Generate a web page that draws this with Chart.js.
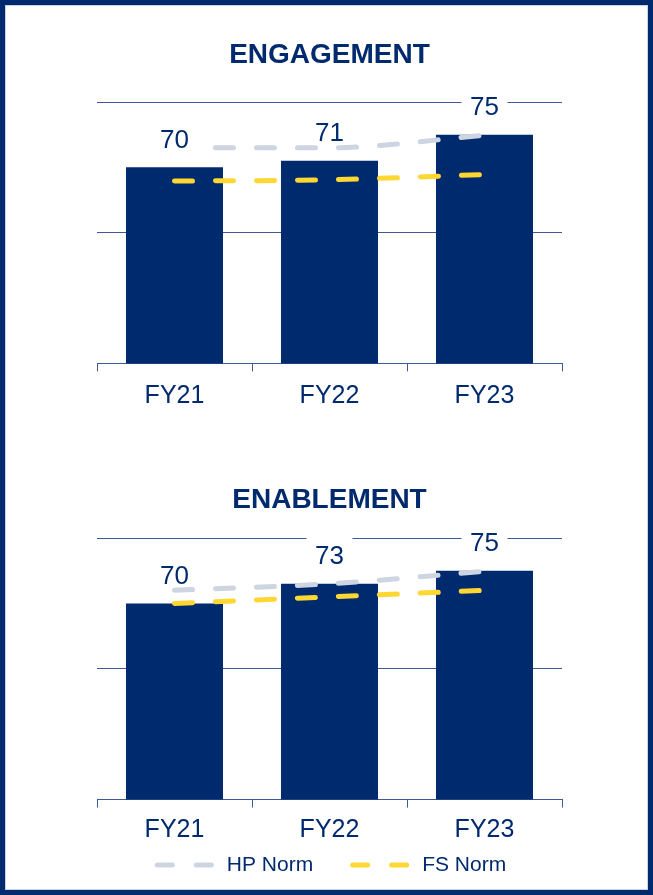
<!DOCTYPE html>
<html lang="en">
<head>
<meta charset="UTF-8" />
<title>Engagement &amp; Enablement</title>
<script src="https://cdn.jsdelivr.net/npm/chart.js@4.4.0/dist/chart.umd.min.js"></script>
<style>
  html, body { margin: 0; padding: 0; background: #fff; }
  body { position: relative; width: 653px; height: 895px; overflow: hidden; }
  .frame {
    position: absolute; left: 0; top: 0; width: 653px; height: 895px;
    box-sizing: border-box; border: 5px solid #002a6e;
    box-shadow: inset 0 0 0 1px #c9d1e3;
  }
  .chart-box { position: absolute; left: 0; width: 653px; }
</style>
</head>
<body>
<div class="frame"></div>
<div class="chart-box" style="top:0;height:420px"><canvas id="engagementChart"></canvas></div>
<div class="chart-box" style="top:440px;height:455px"><canvas id="enablementChart"></canvas></div>

<script>
  const years = ['FY21', 'FY22', 'FY23'];

  const engagementScores = [70, 71, 75];
  const engagementHpNorm = [73, 73, 74.9];
  const engagementFsNorm = [67.9, 68.1, 68.9];

  const enablementScores = [70, 73, 75];
  const enablementHpNorm = [72, 73, 74.9];
  const enablementFsNorm = [70, 71, 72];

  // gridlines on the value axis
  const yTicks = [40, 60, 80];

  const NAVY = '#002a6e';
  const GRID = '#3f5896';
  const HP_GREY = '#cdd4e2';
  const FS_YELLOW = '#ffd733';
  const FONT = '"Liberation Sans", Arial, sans-serif';

  Chart.defaults.font.family = FONT;
  Chart.defaults.color = NAVY;

  // value labels above bars, on a white box (cuts the gridline like the original)
  const barLabels = {
    id: 'barLabels',
    afterDatasetsDraw(chart) {
      const idx = chart.data.datasets.findIndex(d => d.type === 'bar');
      const meta = chart.getDatasetMeta(idx);
      const ctx = chart.ctx;
      ctx.save();
      ctx.font = '26px ' + FONT;
      ctx.textAlign = 'center';
      ctx.textBaseline = 'middle';
      meta.data.forEach((bar, i) => {
        const y = bar.y - 27;
        ctx.fillStyle = '#fff';
        ctx.fillRect(bar.x - 23, y - 22, 46, 32);
        ctx.fillStyle = NAVY;
        ctx.fillText(chart.data.datasets[idx].data[i], bar.x, y);
      });
      ctx.restore();
    }
  };

  // dashed legend for the two norm lines
  const normLegend = {
    id: 'normLegend',
    afterDraw(chart, args, opts) {
      if (!opts.show) return;
      const ctx = chart.ctx;
      const lines = chart.data.datasets.filter(d => d.type === 'line');
      const swatch = 60, gap = 12, between = 37;
      ctx.save();
      ctx.font = '21px ' + FONT;
      ctx.textBaseline = 'middle';
      ctx.textAlign = 'left';
      const widths = lines.map(d => ctx.measureText(d.label).width);
      const total = widths.reduce((s, w) => s + w + swatch + gap, 0) + between * (lines.length - 1);
      const area = chart.chartArea;
      let x = (area.left + area.right) / 2 + 1 - total / 2;
      const y = area.bottom + opts.offset;
      lines.forEach((d, i) => {
        ctx.strokeStyle = d.borderColor;
        ctx.lineWidth = d.borderWidth;
        ctx.lineCap = 'round';
        ctx.setLineDash([15, 24]);
        ctx.beginPath();
        ctx.moveTo(x + 2.5, y);
        ctx.lineTo(x + swatch - 2.5, y);
        ctx.stroke();
        ctx.setLineDash([]);
        ctx.fillStyle = NAVY;
        ctx.fillText(d.label, x + swatch + gap, y);
        x += swatch + gap + widths[i] + between;
      });
      ctx.restore();
    }
  };

  function makeChart(id, title, scores, hpNorm, fsNorm, o) {
    return new Chart(document.getElementById(id), {
      type: 'bar',
      data: {
        labels: years,
        datasets: [
          {
            type: 'line',
            label: 'HP Norm',
            data: hpNorm,
            borderColor: HP_GREY,
            borderWidth: 5,
            borderDash: [18, 23],
            borderCapStyle: 'round',
            cubicInterpolationMode: 'monotone',
            pointRadius: 0,
            order: 1
          },
          {
            type: 'line',
            label: 'FS Norm',
            data: fsNorm,
            borderColor: FS_YELLOW,
            borderWidth: 5,
            borderDash: [18, 23],
            borderCapStyle: 'round',
            cubicInterpolationMode: 'monotone',
            pointRadius: 0,
            order: 2
          },
          {
            type: 'bar',
            label: title,
            data: scores,
            backgroundColor: NAVY,
            barPercentage: 0.626,
            categoryPercentage: 1,
            order: 3
          }
        ]
      },
      options: {
        responsive: true,
        maintainAspectRatio: false,
        animation: false,
        layout: { padding: { left: 97, right: 91, top: o.top, bottom: o.bottom } },
        scales: {
          x: {
            offset: true,
            grid: { offset: true, drawOnChartArea: false, drawTicks: true, tickLength: 8, color: GRID, lineWidth: 1 },
            border: { display: true, color: GRID, width: 1 },
            ticks: { color: NAVY, padding: o.tickPad, font: { size: 25 } }
          },
          y: {
            min: yTicks[0],
            max: yTicks[yTicks.length - 1],
            ticks: { display: false, stepSize: yTicks[1] - yTicks[0] },
            grid: { color: GRID, lineWidth: 1, drawTicks: false },
            border: { display: false }
          }
        },
        plugins: {
          legend: { display: false },
          tooltip: { enabled: false },
          title: {
            display: true,
            text: title,
            color: NAVY,
            font: { size: 28, weight: 'bold' },
            padding: { top: 0, bottom: o.titleGap }
          },
          normLegend: { show: o.legend, offset: 65.5 }
        }
      },
      plugins: [barLabels, normLegend]
    });
  }

  makeChart('engagementChart', 'ENGAGEMENT', engagementScores, engagementHpNorm, engagementFsNorm,
    { top: 38.7, titleGap: 29.7, tickPad: 10.2, bottom: -1.8, legend: false });
  makeChart('enablementChart', 'ENABLEMENT', enablementScores, enablementHpNorm, enablementFsNorm,
    { top: 43.2, titleGap: 21.2, tickPad: 8, bottom: 41.4, legend: true });
</script>
</body>
</html>
